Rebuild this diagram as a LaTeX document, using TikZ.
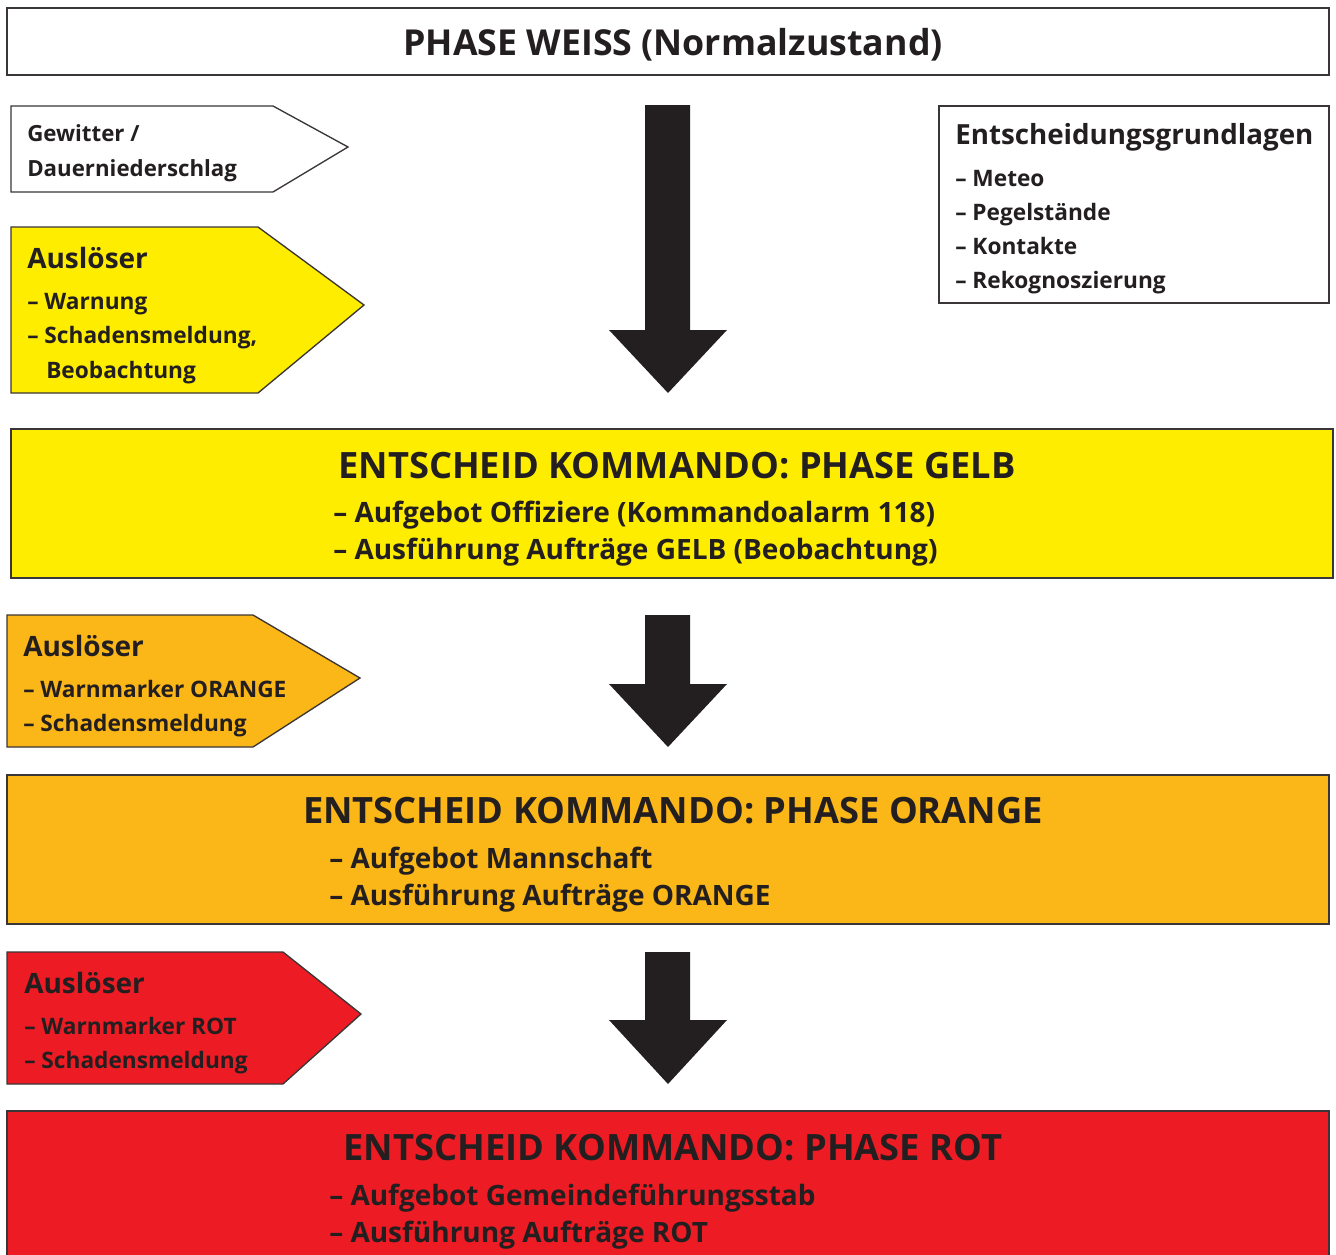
\documentclass[tikz,border=0pt]{standalone}
\usepackage{fontspec}
\setmainfont{Open Sans}[BoldFont={* Bold}]
\definecolor{ink}{HTML}{231F20}
\definecolor{frame}{HTML}{3A3536}
\definecolor{gelb}{HTML}{FFED00}
\definecolor{orangeC}{HTML}{FBB617}
\definecolor{rotC}{HTML}{ED1C24}
\tikzset{
  box/.style={draw=frame, line width=1pt},
  blockarrow/.style={fill=ink, draw=none},
  txt/.style={anchor=base west, inner sep=0pt, text=ink, font=\bfseries#1},
  ctxt/.style={anchor=base, inner sep=0pt, text=ink, font=\bfseries#1},
}
\newcommand{\fsz}[1]{\fontsize{#1}{#1}\selectfont}
\begin{document}
\begin{tikzpicture}[x=0.75pt,y=-0.75pt]
\useasboundingbox (0,0) rectangle (1336,1254);
% top box
\draw[box, fill=white] (7,8) rectangle (1329,75);
\node[ctxt=\fsz{26.8}] (weiss) at (673,55) {PHASE WEISS (Normalzustand)};
% white pentagon
\draw[box, fill=white] (11,106) -- (273,106) -- (348,147) -- (273,192) -- (11,192) -- cycle;
\node[txt=\fsz{16.7}] (g1) at (27,141) {Gewitter /};
\node[txt=\fsz{16.7}] (g2) at (27,176) {Dauerniederschlag};
% yellow pentagon
\draw[box, fill=gelb] (11,227) -- (258,227) -- (364,305) -- (258,393) -- (11,393) -- cycle;
\node[txt=\fsz{21}] (a1) at (27,268) {Auslöser};
\node[txt=\fsz{17}] (a1i) at (27,309) {– Warnung};
\node[txt=\fsz{17}] (a1ii) at (27,343) {– Schadensmeldung,};
\node[txt=\fsz{17}] (a1iii) at (46,378) {Beobachtung};
% decision basis box
\draw[box, fill=white] (939,106) rectangle (1329,303);
\node[txt=\fsz{20.8}] (eg) at (955,144) {Entscheidungsgrundlagen};
\node[txt=\fsz{17}] (eg1) at (955,186) {– Meteo};
\node[txt=\fsz{17}] (eg2) at (955,220) {– Pegelstände};
\node[txt=\fsz{17}] (eg3) at (955,254) {– Kontakte};
\node[txt=\fsz{17}] (eg4) at (955,288) {– Rekognoszierung};
% arrow 1
\fill[blockarrow] (645,105) -- (690,105) -- (690,330) -- (727,330) -- (668,393) -- (609,330) -- (645,330) -- cycle;
% yellow box
\draw[box, fill=gelb] (11,429) rectangle (1333,578);
\node[ctxt=\fsz{27.2}] (gt) at (677,478) {ENTSCHEID KOMMANDO: PHASE GELB};
\node[txt=\fsz{21}] (gl1) at (333,522) {– Aufgebot Offiziere (Kommandoalarm 118)};
\node[txt=\fsz{21}] (gl2) at (333,559) {– Ausführung Aufträge GELB (Beobachtung)};
% orange pentagon
\draw[box, fill=orangeC] (7,615) -- (253,615) -- (360,678) -- (253,747) -- (7,747) -- cycle;
\node[txt=\fsz{21}] (a2) at (23,656) {Auslöser};
\node[txt=\fsz{17}] (a2i) at (23,697) {– Warnmarker ORANGE};
\node[txt=\fsz{17}] (a2ii) at (23,731) {– Schadensmeldung};
% arrow 2
\fill[blockarrow] (645,615) -- (690,615) -- (690,684) -- (727,684) -- (668,747) -- (609,684) -- (645,684) -- cycle;
% orange box
\draw[box, fill=orangeC] (7,775) rectangle (1329,924);
\node[ctxt=\fsz{27.2}] (ot) at (673,823) {ENTSCHEID KOMMANDO: PHASE ORANGE};
\node[txt=\fsz{21}] (ol1) at (329,868) {– Aufgebot Mannschaft};
\node[txt=\fsz{21}] (ol2) at (329,905) {– Ausführung Aufträge ORANGE};
% red pentagon
\draw[box, fill=rotC] (7,952) -- (283,952) -- (361,1014) -- (283,1084) -- (7,1084) -- cycle;
\node[txt=\fsz{21}] (a3) at (24,993) {Auslöser};
\node[txt=\fsz{17}] (a3i) at (24,1034) {– Warnmarker ROT};
\node[txt=\fsz{17}] (a3ii) at (24,1068) {– Schadensmeldung};
% arrow 3
\fill[blockarrow] (645,952) -- (690,952) -- (690,1020) -- (727,1020) -- (668,1084) -- (609,1020) -- (645,1020) -- cycle;
% red box
\draw[box, fill=rotC] (7,1111) rectangle (1329,1262);
\node[ctxt=\fsz{27.2}] (rt) at (673,1160) {ENTSCHEID KOMMANDO: PHASE ROT};
\node[txt=\fsz{21}] (rl1) at (329,1205) {– Aufgebot Gemeindeführungsstab};
\node[txt=\fsz{21}] (rl2) at (329,1242) {– Ausführung Aufträge ROT};
\end{tikzpicture}
\end{document}
